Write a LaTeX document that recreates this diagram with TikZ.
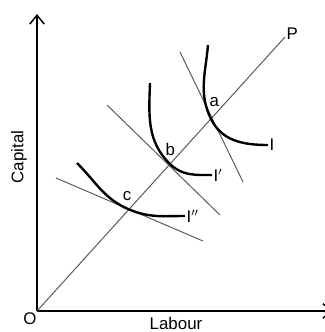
\documentclass[tikz,border=0pt]{standalone}
\usepackage{fontspec}
\setmainfont{Liberation Sans}
\usepackage{tikz}
\usetikzlibrary{arrows.meta}

\begin{document}
\begin{tikzpicture}[
  font=\fontsize{12}{14}\selectfont, >={Straight Barb[length=2.2mm,width=3.6mm]},
  axis/.style={draw=black, line width=1.1pt},
  ray/.style={draw=black!65, line width=0.7pt},
  tng/.style={draw=black!65, line width=0.7pt},
  iso/.style={draw=black, line width=1.7pt},
  lbl/.style={inner sep=1pt},
]
\useasboundingbox (-0.925,-0.525) rectangle (7.2,7.775);

%% Axes
\coordinate (O) at (0,0);
\coordinate (ytop) at (0,7.425);
\coordinate (xend) at (7.4,0);
\draw[axis,->] (O) -- (ytop);
\draw[axis,->] (O) -- (xend);
\node[lbl] (olbl) at (-0.175,-0.19) {O};
\node[lbl] (xlbl) at (3.475,-0.315) {Labour};
\node[lbl,rotate=90] (ylbl) at (-0.45,3.85) {Capital};

%% Expansion path
\coordinate (Ptip) at (6.2,6.85);
\draw[ray] (O) -- (Ptip);
\node[lbl,anchor=south west] (plbl) at (6.2,6.75) {P};

%% Tangency points
\coordinate (a) at (4.35,4.80);
\coordinate (b) at (3.33,3.67);
\coordinate (c) at (2.30,2.54);

%% Isocost lines
\coordinate (ta1) at (3.575,6.475); \coordinate (ta2) at (5.15,3.225);
\coordinate (tb1) at (1.75,5.15);   \coordinate (tb2) at (4.575,2.40);
\coordinate (tc1) at (0.475,3.325); \coordinate (tc2) at (4.15,1.75);
\draw[tng] (ta1) -- (ta2);
\draw[tng] (tb1) -- (tb2);
\draw[tng] (tc1) -- (tc2);

%% Isoquants
\coordinate (ia1) at (4.275,6.65); \coordinate (ia2) at (5.775,4.15);
\coordinate (ib1) at (2.825,5.70); \coordinate (ib2) at (4.375,3.40);
\coordinate (ic1) at (1.00,3.70);  \coordinate (ic2) at (3.70,2.375);
\draw[iso] (ia1) to[out=-95,in=116] (a) to[out=-64,in=180] (ia2);
\draw[iso] (ib1) to[out=-92,in=136] (b) to[out=-44,in=180] (ib2);
\draw[iso] (ic1) to[out=-45,in=157] (c) to[out=-23,in=180] (ic2);
\node[lbl,anchor=west] (ilbl) at (ia2) {I};
\node[lbl,anchor=west] (i1lbl) at (ib2) {I$'$};
\node[lbl,anchor=west] (i2lbl) at (ic2) {I$''$};

%% Point labels
\node[lbl] (albl) at (4.43,5.22) {a};
\node[lbl] (blbl) at (3.33,4.03) {b};
\node[lbl] (clbl) at (2.25,2.88) {c};

\end{tikzpicture}
\end{document}
